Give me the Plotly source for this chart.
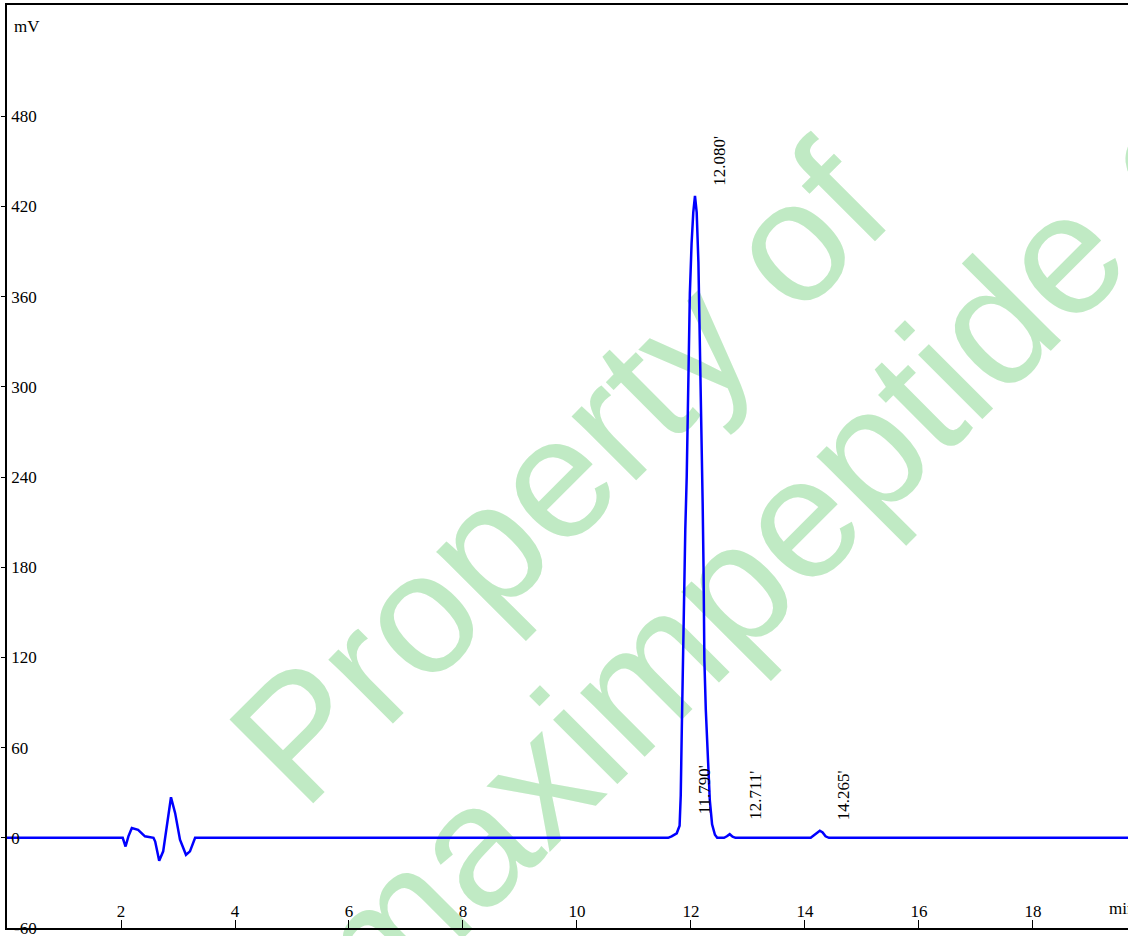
import plotly.graph_objects as go

# ---- data ----
time_min = [0.0, 2.03, 2.08, 2.13, 2.19, 2.30, 2.42, 2.57, 2.60, 2.67, 2.74, 2.81, 2.877, 2.95, 3.035,
            3.14, 3.21, 3.30,
            11.60, 11.66, 11.75, 11.80, 11.82, 11.84, 11.86, 11.88, 11.90, 11.925, 11.95, 11.98, 12.01,
            12.04, 12.07, 12.10, 12.13, 12.15, 12.17, 12.19, 12.205, 12.22, 12.235, 12.26, 12.29, 12.33,
            12.37, 12.42, 12.46, 12.58, 12.63, 12.68, 12.73, 12.78,
            14.10, 14.17, 14.22, 14.26, 14.31, 14.36, 14.42, 20.0]
signal_mv = [0.0, 0.0, -5.8, 1.0, 6.5, 5.3, 1.0, 0.0, -2.5, -15.3, -9.0, 9.8, 27.0, 16.4, -1.3,
             -11.3, -9.0, 0.0,
             0.0, 1.0, 3.0, 8.0, 28.0, 75.0, 125.0, 170.0, 205.0, 240.0, 300.0, 362.0, 395.0,
             416.0, 427.0, 416.0, 383.0, 345.0, 305.0, 262.0, 222.0, 180.0, 118.0, 85.0, 55.0, 25.0,
             9.0, 2.0, 0.0, 0.0, 1.0, 2.4, 0.8, 0.0,
             0.0, 2.0, 4.0, 4.7, 3.5, 1.0, 0.0, 0.0]

peak_labels = ["11.790'", "12.080'", "12.711'", "14.265'"]
peak_label_x = [12.23, 12.51, 13.13, 14.69]
peak_label_y = [14.0, 432.5, 10.6, 10.6]

x_ticks = [2, 4, 6, 8, 10, 12, 14, 16, 18]
y_ticks = [-60, 0, 60, 120, 180, 240, 300, 360, 420, 480]
x_range = [0.0, 19.667]
y_range = [-60.0, 554.0]

watermark_lines = ["Property of", "maximpeptide.com"]

# ---- layout geometry (pixels) ----
W, H = 1128, 936
ML, MR, MT, MB = 7, 0, 5, 8
PW, PH = W - ML - MR, H - MT - MB


def px_x(p):
    return (p - ML) / PW


def px_y(p):
    return (H - MB - p) / PH


SERIF = "Liberation Serif"
FS = 17

fig = go.Figure()
fig.add_trace(go.Scatter(x=time_min, y=signal_mv, mode="lines",
                         line=dict(color="#0000ff", width=2.5), hoverinfo="skip"))

annotations = []
for txt, xv, yv in zip(peak_labels, peak_label_x, peak_label_y):
    annotations.append(dict(x=xv, y=yv, xref="x", yref="y", text=txt, showarrow=False,
                            textangle=-90, xanchor="center", yanchor="bottom",
                            font=dict(family=SERIF, size=FS, color="black")))
annotations.append(dict(x=px_x(12), y=px_y(26), xref="paper", yref="paper", text="mV",
                        showarrow=False, xanchor="left", yanchor="middle",
                        font=dict(family=SERIF, size=FS, color="black")))
annotations.append(dict(x=px_x(1107), y=px_y(908), xref="paper", yref="paper", text="min",
                        showarrow=False, xanchor="left", yanchor="middle",
                        font=dict(family=SERIF, size=FS, color="black")))
# lowest y tick label sits on the x axis line (plotly hides it as an inside label)
annotations.append(dict(x=px_x(12), y=y_ticks[0], xref="paper", yref="y", text=str(y_ticks[0]),
                        showarrow=False, xanchor="left", yanchor="middle",
                        font=dict(family=SERIF, size=FS, color="black")))

# watermark (drawn below the trace)
wm_centers = [(547, 462), (836, 458)]
shapes = []
for txt, (cx, cy) in zip(watermark_lines, wm_centers):
    shapes.append(dict(type="rect", xref="paper", yref="paper", layer="below",
                       x0=px_x(cx) - 0.005, x1=px_x(cx) + 0.005,
                       y0=px_y(cy) - 0.005, y1=px_y(cy) + 0.005,
                       line=dict(width=0, color="rgba(0,0,0,0)"), fillcolor="rgba(0,0,0,0)",
                       label=dict(text=txt, textangle=-45, textposition="middle center",
                                  font=dict(family="Liberation Sans", size=172, color="#c0eac4"))))

fig.update_layout(
    width=W, height=H,
    margin=dict(l=ML, r=MR, t=MT, b=MB, pad=0),
    paper_bgcolor="white", plot_bgcolor="white",
    showlegend=False,
    annotations=annotations,
    shapes=shapes,
    xaxis=dict(range=x_range, tickvals=x_ticks, ticks="inside", ticklen=8, tickwidth=1.2,
               tickcolor="black", ticklabelposition="inside", showline=True, linecolor="black",
               linewidth=1.5, mirror=True, showgrid=False, zeroline=False,
               tickfont=dict(family=SERIF, size=FS, color="black")),
    yaxis=dict(range=y_range, tickvals=y_ticks, ticks="outside", ticklen=4, tickwidth=1.2,
               tickcolor="black", ticklabelposition="inside", ticklabelstandoff=5,
               showline=True, linecolor="black",
               linewidth=1.5, showgrid=False, zeroline=False,
               tickfont=dict(family=SERIF, size=FS, color="black")),
)

fig.write_html("out.html", config={"displayModeBar": False},
               post_script="document.body.style.margin='0';")
